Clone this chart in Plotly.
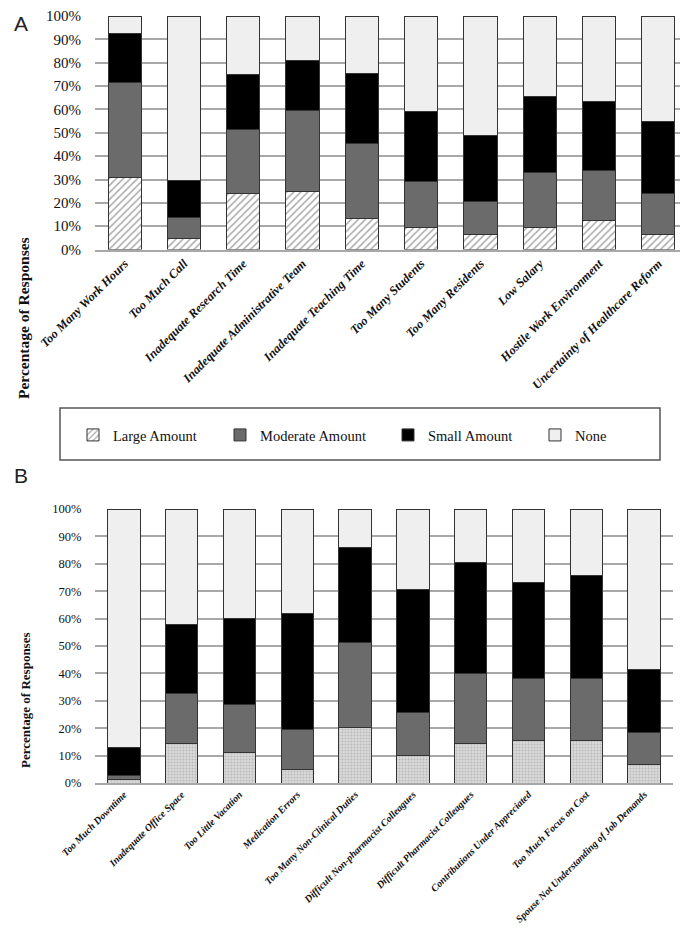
import plotly.graph_objects as go

# ---------------- data ----------------
cats_a = ["Too Many Work Hours", "Too Much Call", "Inadequate Research Time",
          "Inadequate Administrative Team", "Inadequate Teaching Time",
          "Too Many Students", "Too Many Residents", "Low Salary",
          "Hostile Work Environment", "Uncertainty of Healthcare Reform"]
large_a = [30.7, 4.9, 23.9, 25.0, 13.2, 9.3, 6.3, 9.6, 12.6, 6.5]
moderate_a = [40.9, 8.8, 27.5, 34.7, 32.1, 19.8, 14.1, 23.4, 21.3, 17.5]
small_a = [21.0, 16.0, 23.6, 21.3, 30.3, 30.2, 28.5, 32.7, 29.7, 31.0]
none_a = [7.4, 70.3, 25.0, 19.0, 24.4, 40.7, 51.1, 34.3, 36.4, 45.0]

cats_b = ["Too Much Downtime", "Inadequate Office Space", "Too Little Vacation",
          "Medication Errors", "Too Many Non-Clinical Duties",
          "Difficult Non-pharmacist Colleagues", "Difficult Pharmacist Colleagues",
          "Contributions Under Appreciated", "Too Much Focus on Cost",
          "Spouse Not Understanding of Job Demands"]
large_b = [1.2, 14.4, 11.2, 4.9, 20.1, 10.2, 14.6, 15.5, 15.5, 6.6]
moderate_b = [1.6, 18.1, 17.6, 14.8, 31.2, 15.6, 25.4, 22.5, 22.5, 12.0]
small_b = [10.2, 25.5, 31.4, 42.3, 34.8, 44.8, 40.4, 35.0, 37.7, 22.9]
none_b = [87.0, 42.0, 39.8, 38.0, 13.9, 29.4, 19.6, 27.0, 24.3, 58.5]

series_names = ["Large Amount", "Moderate Amount", "Small Amount", "None"]
y_tick_vals = [0, 10, 20, 30, 40, 50, 60, 70, 80, 90, 100]
y_tick_text = ["0%", "10%", "20%", "30%", "40%", "50%", "60%", "70%", "80%", "90%", "100%"]

# ---------------- figure ----------------
W, H = 688, 929
SERIF = "Liberation Serif, Times New Roman, Times, serif"
OUT = "#333333"
GRID = "#a8a8a8"

def px_x(p):
    return p / W

def px_y(p):
    return 1 - p / H

fig = go.Figure()

styles_a = [
    dict(color="white", pattern=dict(shape="/", fgcolor="#555555", bgcolor="white", size=5, solidity=0.3)),
    dict(color="#6b6b6b"),
    dict(color="#000000"),
    dict(color="#efefef"),
]
styles_b = [
    dict(color="#d2d2d2", pattern=dict(shape=".", fgcolor="#9a9a9a", bgcolor="#dadada", size=3, solidity=0.4)),
    dict(color="#6b6b6b"),
    dict(color="#000000"),
    dict(color="#efefef"),
]

legends = ["legend", "legend2", "legend3", "legend4"]
for i, (name, vals) in enumerate(zip(series_names, [large_a, moderate_a, small_a, none_a])):
    m = dict(styles_a[i])
    m["line"] = dict(color=OUT, width=1)
    fig.add_trace(go.Bar(x=cats_a, y=vals, name=name, marker=m, xaxis="x", yaxis="y",
                         legend=legends[i], showlegend=True))

for i, (name, vals) in enumerate(zip(series_names, [large_b, moderate_b, small_b, none_b])):
    m = dict(styles_b[i])
    m["line"] = dict(color=OUT, width=1)
    fig.add_trace(go.Bar(x=cats_b, y=vals, name=name, marker=m, xaxis="x2", yaxis="y2",
                         showlegend=False))

axis_common = dict(showgrid=True, gridcolor=GRID, gridwidth=1.5, range=[0, 100],
                   tickmode="array", tickvals=y_tick_vals, ticktext=y_tick_text,
                   showline=False, zeroline=False, ticklabeloverflow="allow",
                   ticks="outside", ticklen=10, tickcolor="rgba(0,0,0,0)", automargin=False)

legend_x_text = [113, 260, 428, 575]
leg_y = px_y(427)
layout_legends = {}
for i, lg in enumerate(legends):
    layout_legends[lg] = dict(x=px_x(legend_x_text[i] - 48), y=leg_y, xanchor="left", yanchor="middle",
                              orientation="h", bgcolor="rgba(0,0,0,0)", borderwidth=0,
                              font=dict(family=SERIF, size=14.5, color="#111"),
                              itemclick=False, itemdoubleclick=False)

fig.update_layout(
    width=W, height=H,
    margin=dict(l=0, r=0, t=0, b=0),
    paper_bgcolor="white", plot_bgcolor="white",
    barmode="stack",
    font=dict(family=SERIF, color="#111"),
    xaxis=dict(domain=[px_x(87), px_x(680)], anchor="y", tickangle=-45,
               tickfont=dict(family=SERIF, size=12.5, weight="bold", style="italic", color="#111"),
               showline=True, linecolor=GRID, linewidth=1.5, ticks="", automargin=False,
               ticklabeloverflow="allow"),
    yaxis=dict(domain=[px_y(241.6), px_y(8)], anchor="x",
               tickfont=dict(family=SERIF, size=15, color="#111"), **axis_common),
    xaxis2=dict(domain=[px_x(87), px_x(665)], anchor="y2", tickangle=-45,
                tickfont=dict(family=SERIF, size=10, weight="bold", style="italic", color="#111"),
                showline=True, linecolor=GRID, linewidth=1.5, ticks="", automargin=False,
                ticklabeloverflow="allow"),
    yaxis2=dict(domain=[px_y(775), px_y(501)], anchor="x2",
                tickfont=dict(family=SERIF, size=12.5, color="#111"), **axis_common),
    bargap=0.44,
    **layout_legends,
)

# legend frame
fig.add_shape(type="rect", xref="paper", yref="paper",
              x0=px_x(52), x1=px_x(652), y0=px_y(452), y1=px_y(400),
              line=dict(color="#555555", width=1.5), fillcolor="rgba(0,0,0,0)")

# y-axis titles and panel letters
fig.add_annotation(text="<b>Percentage of Responses</b>", xref="paper", yref="paper",
                   x=px_x(15), y=px_y(310), textangle=-90, showarrow=False,
                   xanchor="center", yanchor="middle",
                   font=dict(family=SERIF, size=15.5, color="#111"))
fig.add_annotation(text="<b>Percentage of Responses</b>", xref="paper", yref="paper",
                   x=px_x(17), y=px_y(692), textangle=-90, showarrow=False,
                   xanchor="center", yanchor="middle",
                   font=dict(family=SERIF, size=13, color="#111"))
fig.add_annotation(text="A", xref="paper", yref="paper", x=px_x(13), y=px_y(16),
                   xanchor="center", yanchor="middle",
                   showarrow=False, font=dict(family="Liberation Sans", size=21, color="#222"))
fig.add_annotation(text="B", xref="paper", yref="paper", x=px_x(13), y=px_y(467),
                   xanchor="center", yanchor="middle",
                   showarrow=False, font=dict(family="Liberation Sans", size=21, color="#222"))

fig.write_html("out.html")
